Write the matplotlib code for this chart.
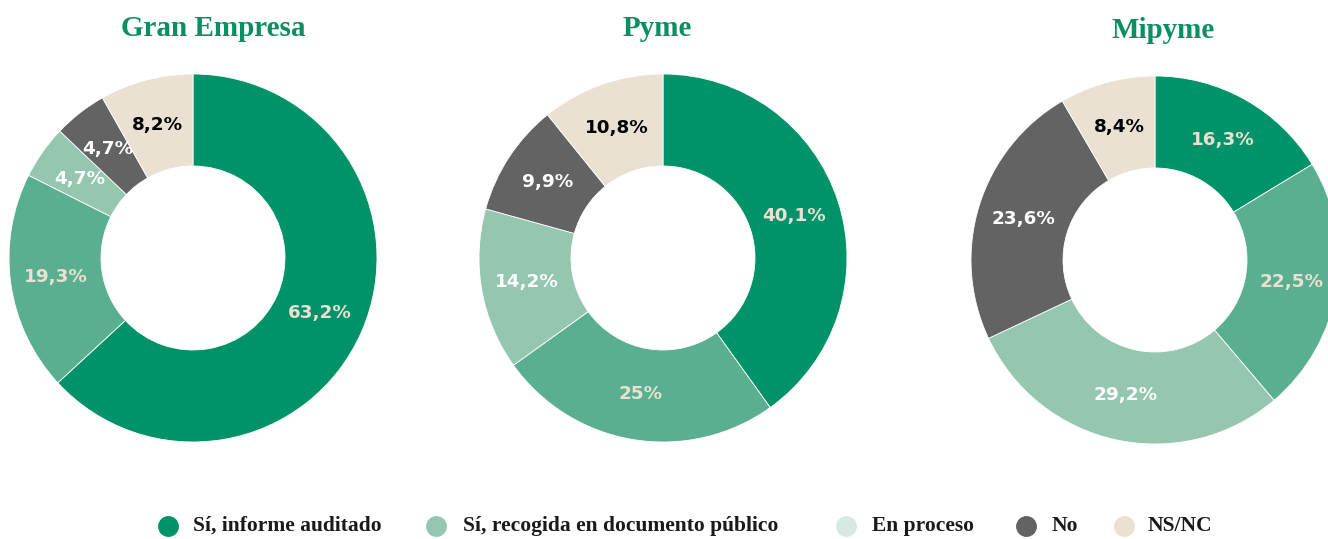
import matplotlib.pyplot as plt
from matplotlib.lines import Line2D

# data
titles = ["Gran Empresa", "Pyme", "Mipyme"]
categories = ["Sí, informe auditado", "Sí, recogida en documento público",
              "En proceso", "No", "NS/NC"]
gran_empresa = [63.2, 19.3, 4.7, 4.7, 8.2]
pyme = [40.1, 25, 14.2, 9.9, 10.8]
mipyme = [16.3, 22.5, 29.2, 23.6, 8.4]
values = [gran_empresa, pyme, mipyme]

# colours
slice_colors = ["#009369", "#5BAF91", "#95C7B0", "#636363", "#EAE1D2"]
legend_colors = ["#009369", "#95C7B0", "#D6EAE2", "#636363", "#EAE1D2"]
label_colors = ["#EAE1D2", "#EAE1D2", "#FFFFFF", "#FFFFFF", "#000000"]
title_color = "#0A8F63"

W, H = 1328, 539
fig = plt.figure(figsize=(W / 100, H / 100), dpi=100)

# pixel centres / radius of each donut
centers = [(193, 258), (663, 258), (1155, 260)]
title_pos = [(213, 29), (657, 29), (1163, 31)]
R = 184

def fmt(v):
    s = ("%.1f" % v).rstrip("0").rstrip(".")
    return s.replace(".", ",") + "%"

for i in range(3):
    cx, cy = centers[i]
    ax = fig.add_axes([(cx - R) / W, (H - cy - R) / H, 2 * R / W, 2 * R / H])
    wedges, texts = ax.pie(values[i], colors=slice_colors, startangle=90,
                           counterclock=False, radius=1.0,
                           labels=[fmt(v) for v in values[i]], labeldistance=0.75,
                           textprops=dict(family="DejaVu Sans", weight="bold",
                                          size=13.2, ha="center", va="center"),
                           wedgeprops=dict(width=0.5, edgecolor="white", linewidth=0.6))
    for t, c in zip(texts, label_colors):
        t.set_color(c)
        t.set_ha("center")
        t.set_va("center")
    ax.set_xlim(-1, 1)
    ax.set_ylim(-1, 1)
    ax.set_aspect("equal")
    ax.axis("off")
    tx, ty = title_pos[i]
    fig.text(tx / W, 1 - ty / H, titles[i], ha="center", va="center",
             fontsize=21, fontweight="bold", family="Liberation Serif",
             color=title_color)

# legend, placed entry by entry
dot_x = [168, 436, 846, 1026, 1124]
text_x = [193, 463, 872, 1052, 1148]
leg_y = 1 - 526 / H
for c, lab, dx, tx in zip(legend_colors, categories, dot_x, text_x):
    fig.add_artist(Line2D([dx / W], [leg_y], transform=fig.transFigure,
                          marker="o", linestyle="", markersize=14,
                          markerfacecolor=c, markeredgecolor=c))
    fig.text(tx / W, leg_y, lab, ha="left", va="center", fontsize=15.5,
             fontweight="bold", family="Liberation Serif", color="#1a1a1a")

fig.savefig("out.png", dpi=100)
